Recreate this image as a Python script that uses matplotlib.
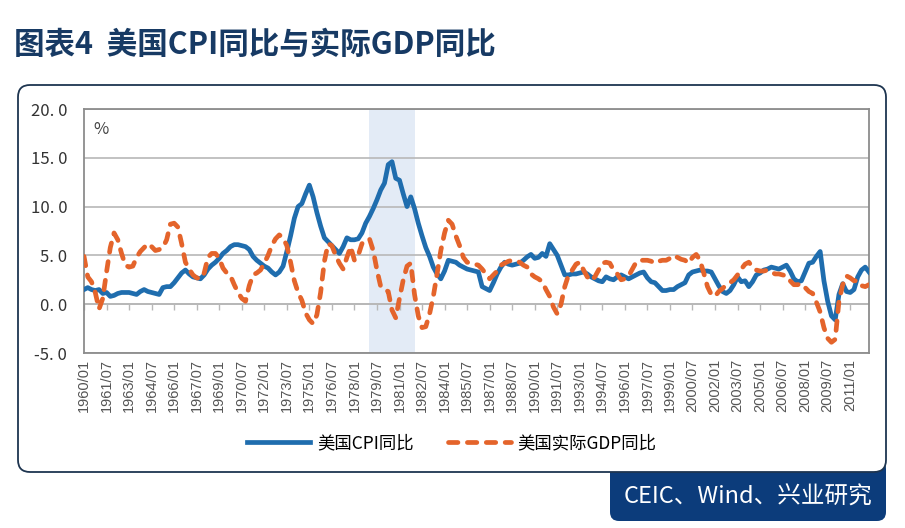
import numpy as np
import pandas as pd
import matplotlib
matplotlib.use("Agg")
import matplotlib.pyplot as plt
from matplotlib.patches import FancyBboxPatch
from matplotlib.lines import Line2D
from matplotlib.ticker import FuncFormatter

plt.rcParams['font.family'] = ['Noto Sans CJK SC', 'DejaVu Sans']

# ---------------- data ----------------
title = "图表4  美国CPI同比与实际GDP同比"
source = "CEIC、Wind、兴业研究"
series_names = ["美国CPI同比", "美国实际GDP同比"]
unit_label = "%"
start_quarter = "1960Q1"

cpi = [
    1.5, 1.7, 1.5, 1.4,   # 1960
    1.5, 1.1, 1.2, 0.8,   # 1961
    0.9, 1.1, 1.2, 1.2,   # 1962
    1.2, 1.1, 1.0, 1.3,   # 1963
    1.5, 1.3, 1.2, 1.1,   # 1964
    1.0, 1.7, 1.8, 1.8,   # 1965
    2.2, 2.7, 3.2, 3.5,   # 1966
    3.1, 2.8, 2.7, 2.6,   # 1967
    3.0, 3.6, 4.0, 4.3,   # 1968
    4.7, 5.2, 5.5, 5.9,   # 1969
    6.1, 6.1, 6.0, 5.9,   # 1970
    5.6, 4.9, 4.5, 4.2,   # 1971
    3.9, 3.7, 3.3, 3.0,   # 1972
    3.3, 3.9, 5.4, 7.0,   # 1973
    8.8, 10.0, 10.3, 11.3,  # 1974
    12.2, 11.0, 9.4, 8.0,   # 1975
    6.8, 6.4, 6.0, 5.6,   # 1976
    5.2, 5.9, 6.8, 6.6,   # 1977
    6.6, 6.7, 7.3, 8.3,   # 1978
    9.0, 9.8, 10.7, 11.7,   # 1979
    12.4, 14.3, 14.6, 12.9,  # 1980
    12.7, 11.3, 10.0, 11.0,  # 1981
    9.8, 8.3, 7.0, 5.8,   # 1982
    4.9, 3.8, 3.1, 2.6,   # 1983
    3.4, 4.5, 4.4, 4.3,   # 1984
    4.0, 3.8, 3.6, 3.5,   # 1985
    3.4, 3.3, 1.8, 1.6,   # 1986
    1.4, 2.2, 3.1, 3.8,   # 1987
    4.3, 4.1, 4.0, 4.1,   # 1988
    4.2, 4.5, 4.85, 5.1,  # 1989
    4.7, 4.8, 5.2, 4.9,   # 1990
    6.2, 5.6, 5.0, 4.0,   # 1991
    3.0, 3.0, 3.1, 3.1,   # 1992
    3.2, 3.3, 3.1, 2.8,   # 1993
    2.6, 2.4, 2.3, 2.8,   # 1994
    2.6, 2.5, 2.8, 3.0,   # 1995
    2.8, 2.6, 2.8, 3.0,   # 1996
    3.2, 3.3, 2.7, 2.3,   # 1997
    2.2, 1.8, 1.4, 1.4,   # 1998
    1.5, 1.5, 1.8, 2.0,   # 1999
    2.2, 3.0, 3.3, 3.4,   # 2000
    3.5, 3.4, 3.4, 3.3,   # 2001
    2.6, 1.9, 1.3, 1.1,   # 2002
    1.4, 2.0, 2.8, 2.3,   # 2003
    2.4, 1.8, 2.3, 3.0,   # 2004
    3.2, 3.5, 3.6, 3.8,   # 2005
    3.7, 3.6, 3.8, 4.0,   # 2006
    3.4, 2.6, 2.3, 2.4,   # 2007
    3.3, 4.2, 4.3, 4.9,   # 2008
    5.4, 2.4, 0.3, -1.2,  # 2009
    -1.6, 1.0, 2.1, 1.3,  # 2010
    1.2, 1.5, 2.8, 3.5,   # 2011
    3.8, 3.3,             # 2012
]

gdp = [
    4.9, 2.8, 2.3, 1.2,   # 1960
    -0.5, 0.6, 3.3, 5.8,  # 1961
    7.3, 6.6, 5.2, 4.0,   # 1962
    3.8, 3.9, 4.8, 5.4,   # 1963
    5.8, 6.2, 5.9, 5.5,   # 1964
    5.6, 5.8, 6.6, 8.2,   # 1965
    8.3, 7.9, 6.2, 4.3,   # 1966
    3.6, 3.0, 2.7, 2.6,   # 1967
    3.2, 4.8, 5.2, 5.2,   # 1968
    4.7, 3.7, 3.2, 2.9,   # 1969
    2.0, 1.2, 0.6, 0.3,   # 1970
    1.9, 3.0, 3.2, 3.5,   # 1971
    4.2, 5.0, 6.0, 6.7,   # 1972
    7.1, 6.8, 6.0, 4.3,   # 1973
    2.4, 1.2, 0.4, -0.9,  # 1974
    -1.6, -2.0, -1.1, 1.2,  # 1975
    4.4, 6.2, 6.0, 5.0,   # 1976
    4.2, 3.6, 4.8, 5.9,   # 1977
    4.5, 5.0, 6.2, 6.5,   # 1978
    6.7, 5.5, 3.5, 1.8,   # 1979
    1.5, 1.3, -0.6, -1.4,  # 1980
    0.6, 2.5, 3.9, 4.2,   # 1981
    1.0, -1.2, -2.4, -2.3,  # 1982
    -1.0, 0.8, 3.1, 5.5,  # 1983
    7.3, 8.6, 8.2, 7.0,   # 1984
    6.0, 4.8, 4.3, 4.2,   # 1985
    4.1, 4.0, 3.6, 3.1,   # 1986
    2.6, 3.0, 3.4, 4.0,   # 1987
    4.2, 4.4, 4.5, 4.4,   # 1988
    4.3, 4.0, 3.8, 3.1,   # 1989
    2.8, 2.6, 2.3, 1.5,   # 1990
    0.8, -0.3, -1.0, 0.0,  # 1991
    1.8, 3.0, 3.5, 4.1,   # 1992
    4.3, 3.5, 2.8, 2.4,   # 1993
    2.8, 3.5, 4.2, 4.3,   # 1994
    4.2, 3.5, 3.1, 2.5,   # 1995
    2.6, 2.9, 3.6, 4.3,   # 1996
    4.5, 4.5, 4.5, 4.4,   # 1997
    4.2, 4.4, 4.5, 4.5,   # 1998
    4.7, 5.0, 4.8, 4.6,   # 1999
    4.5, 4.2, 4.8, 5.1,   # 2000
    4.5, 3.2, 1.8, 1.0,   # 2001
    0.8, 1.3, 1.6, 2.0,   # 2002
    2.2, 2.5, 3.0, 3.6,   # 2003
    4.1, 4.3, 3.8, 3.5,   # 2004
    3.4, 3.4, 3.5, 3.3,   # 2005
    3.1, 3.1, 3.0, 2.9,   # 2006
    2.4, 2.0, 2.0, 2.1,   # 2007
    1.7, 1.3, 1.1, 0.2,   # 2008
    -0.8, -2.4, -3.5, -3.9,  # 2009
    -3.6, 0.3, 2.0, 2.9,  # 2010
    2.7, 2.4, 2.4, 1.9,   # 2011
    1.8, 2.0,             # 2012
]

tick_labels = [
    "1960/01", "1961/07", "1963/01", "1964/07", "1966/01", "1967/07",
    "1969/01", "1970/07", "1972/01", "1973/07", "1975/01", "1976/07",
    "1978/01", "1979/07", "1981/01", "1982/07", "1984/01", "1985/07",
    "1987/01", "1988/07", "1990/01", "1991/07", "1993/01", "1994/07",
    "1996/01", "1997/07", "1999/01", "2000/07", "2002/01", "2003/07",
    "2005/01", "2006/07", "2008/01", "2009/07", "2011/01",
]
shade_from, shade_to = "1979/01", "1982/01"
y_ticks = [-5, 0, 5, 10, 15, 20]

# ---------------- styles ----------------
BLUE = "#1f6dae"
ORANGE = "#e4642b"
NAVY = "#173a64"
GRID = "#b8b8b8"
W, H = 905, 528

n = len(cpi)
quarters = pd.period_range(start_quarter, periods=n, freq="Q")
categories = [f"{p.year}/{3 * (p.quarter - 1) + 1:02d}" for p in quarters]
x = np.arange(n)
tick_pos = [categories.index(t) for t in tick_labels]

fig = plt.figure(figsize=(W / 100, H / 100), dpi=100)

# background decorations in pixel coordinates
bg = fig.add_axes([0, 0, 1, 1], zorder=-1)
bg.set_xlim(0, W)
bg.set_ylim(H, 0)
bg.axis("off")
bg.add_patch(FancyBboxPatch((610, 460), 276, 61,
                            boxstyle="round,pad=0,rounding_size=9",
                            fc="#0c3c7b", ec="none", zorder=1))
bg.add_patch(FancyBboxPatch((18, 85), 868, 387,
                            boxstyle="round,pad=0,rounding_size=12",
                            fc="white", ec="#1e3550", lw=1.3, zorder=2))
bg.text(748, 497, source, color="white", fontsize=17, ha="center",
        va="center", zorder=3)

fig.text(14 / W, 1 - 45 / H, title, fontsize=22, color=NAVY, ha="left",
         va="center", fontweight="bold")

# main axes
ax = fig.add_axes([84 / W, 175 / H, 785 / W, 244 / H])
ymin, ymax = y_ticks[0], y_ticks[-1]
ax.set_xlim(0, n - 1)
ax.set_ylim(ymin, ymax)

ax.axvspan(categories.index(shade_from), categories.index(shade_to),
           color="#e3ebf6", lw=0, zorder=0)
ax.set_yticks(y_ticks)
ax.yaxis.grid(True, color=GRID, lw=1.2)
ax.set_axisbelow(True)
ax.axhline(0, color=GRID, lw=1.4, zorder=1)

ax.plot(x, cpi, color=BLUE, lw=3.4, solid_joinstyle="round", zorder=3)
ax.plot(x, gdp, color=ORANGE, lw=3.4, ls=(0, (2.0, 2.0)),
        dash_capstyle="round", zorder=4)

for s in ax.spines.values():
    s.set_color("#8c8c8c")
    s.set_linewidth(1.3)

ax.yaxis.set_major_formatter(FuncFormatter(lambda v, p: f"{v:.1f}".replace(".", ". ")))
ax.tick_params(axis="y", length=0, pad=12, labelsize=12, labelcolor="#333333")
ax.set_xticks(tick_pos)
ax.set_xticklabels(tick_labels, rotation=90, fontfamily="Liberation Sans")
ax.tick_params(axis="x", length=0, pad=4, labelsize=10.5, labelcolor="#555555")

# tick marks on the zero line
zero_frac = (0 - ymin) / (ymax - ymin)
sec = ax.secondary_xaxis(zero_frac)
sec.set_xticks(tick_pos)
sec.tick_params(direction="out", length=4, color=GRID, width=1.0,
                labelbottom=False, labeltop=False)
for s in sec.spines.values():
    s.set_visible(False)

ax.text(0.012, 0.915, unit_label, transform=ax.transAxes, fontsize=12,
        color="#444444", va="center", ha="left")

handles = [
    Line2D([], [], color=BLUE, lw=3.4),
    Line2D([], [], color=ORANGE, lw=3.4, ls=(0, (2.0, 2.0)), dash_capstyle="round"),
]
fig.legend(handles, series_names, loc="center", bbox_to_anchor=(452 / W, 1 - 443 / H),
           ncol=2, frameon=False, fontsize=12.5, handlelength=3.6,
           columnspacing=2.0, handletextpad=0.4)

fig.savefig("out.png", dpi=100)
